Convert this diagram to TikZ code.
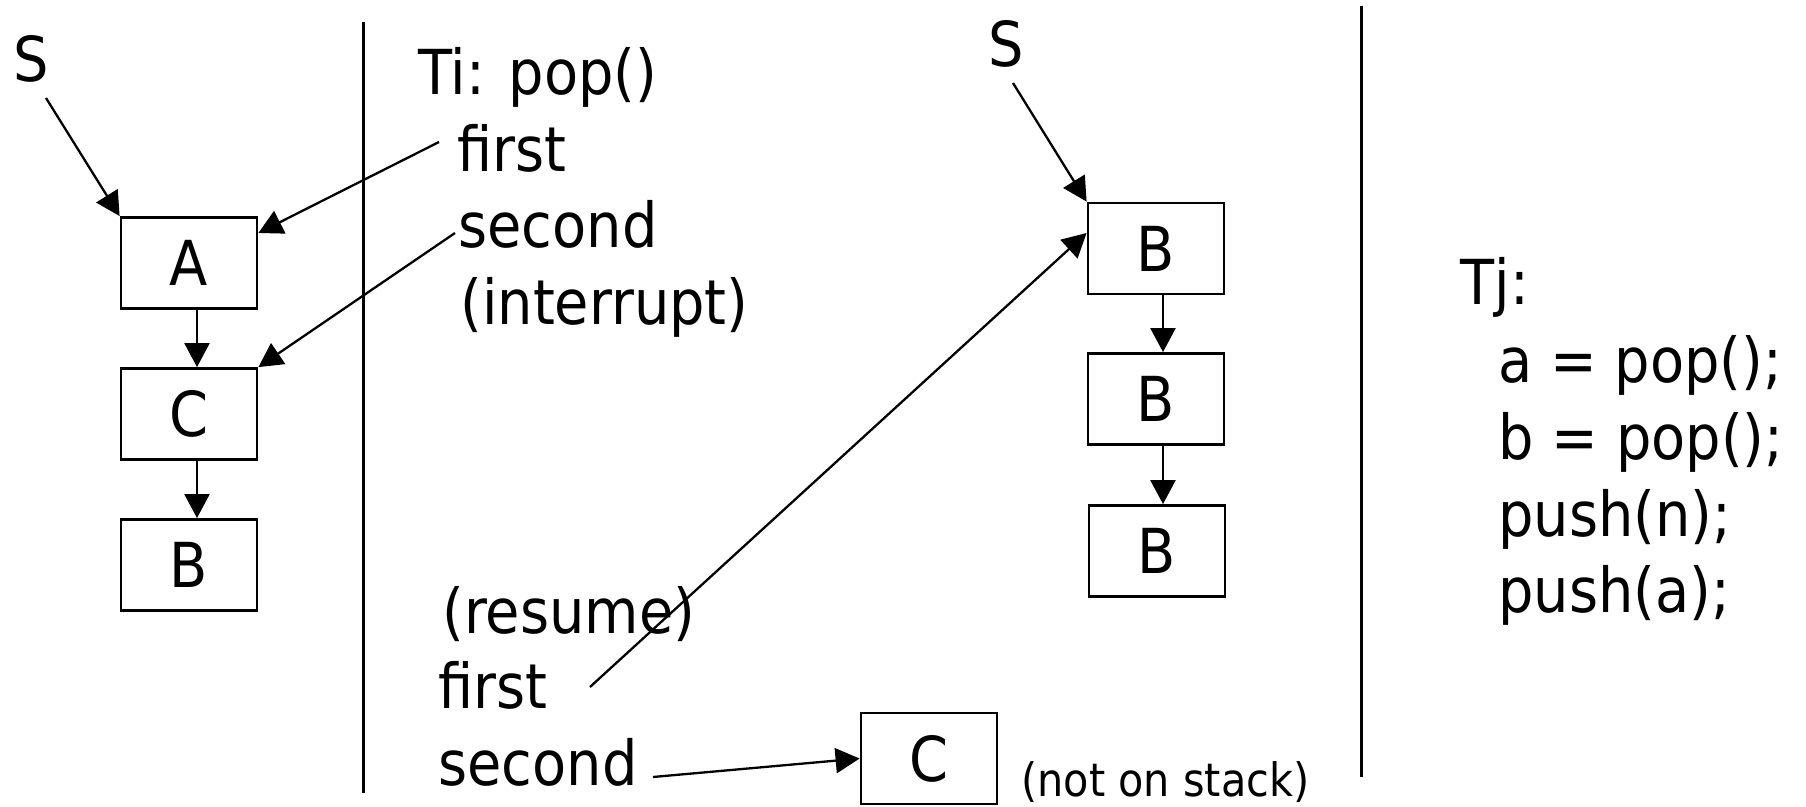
\documentclass[tikz,border=0pt]{standalone}
\usepackage{fontspec}
\setmainfont{DejaVu Sans}[FakeStretch=0.9]
\usetikzlibrary{arrows.meta}
\begin{document}
\begin{tikzpicture}[x=0.5pt,y=-0.5pt,
  lbl/.style={font=\fontsize{31}{38}\selectfont, anchor=base west, inner sep=0pt},
  smalllbl/.style={font=\fontsize{23}{28}\selectfont, anchor=base west, inner sep=0pt},
  cell/.style={draw, line width=1.4pt, minimum width=68pt, minimum height=45.5pt,
               inner sep=0pt, font=\fontsize{31}{38}\selectfont},
  link/.style={line width=1.15pt, -{Triangle[length=12pt,width=12.5pt]}},
  divider/.style={line width=1.5pt}]
\useasboundingbox (0,0) rectangle (1806,807);

% column dividers
\coordinate (d1top) at (363,22);
\coordinate (d1bot) at (363,793);
\coordinate (d2top) at (1361.5,6);
\coordinate (d2bot) at (1361.5,777);
\draw[divider] (d1top) -- (d1bot);
\draw[divider] (d2top) -- (d2bot);

% initial stack
\node[lbl] (s1) at (13,82) {S};
\node[cell] (a1) at (189,263) {A};
\node[cell] (c1) at (189,414) {C};
\node[cell] (b1) at (189,565) {B};

% thread Ti
\node[lbl] (ti) at (418,95) {Ti: pop()};
\node[lbl] (ifirst) at (457,172) {first};
\node[lbl] (isecond) at (458,248) {second};
\node[lbl] (iint) at (460,325) {(interrupt)};

\node[lbl] (resume) at (442,633) {(resume)};
\node[lbl] (rfirst) at (438,708) {first};
\node[lbl] (rsecond) at (438,785) {second};

% stack after Tj
\node[lbl] (s2) at (988,67) {S};
\node[cell] (b2a) at (1156,248.5) {B};
\node[cell] (b2b) at (1156,399) {B};
\node[cell] (b2c) at (1157,551) {B};
\node[cell] (c2) at (929,758.5) {C};
\node[smalllbl] (nos) at (1021,796) {(not on stack)};

% thread Tj
\node[lbl] (tj) at (1460,305) {Tj:};
\node[lbl] (tj1) at (1498,383) {a = pop();};
\node[lbl] (tj2) at (1498,460) {b = pop();};
\node[lbl] (tj3) at (1498,537) {push(n);};
\node[lbl] (tj4) at (1498,613) {push(a);};

% pointers, left part
\coordinate (s1tail) at (46,98);
\coordinate (ifirsttail) at (439,142);
\coordinate (isecondtail) at (455,233);
\draw[link] (s1tail) -- (a1.north west);
\draw[link] (ifirsttail) -- ([yshift=15pt]a1.east);
\draw[link] (isecondtail) -- (c1.north east);
\draw[link] ([xshift=4pt]a1.south) -- ([xshift=4pt]c1.north);
\draw[link] ([xshift=4pt]c1.south) -- ([xshift=4pt]b1.north);

% pointers, right part
\coordinate (s2tail) at (1013,83);
\coordinate (rfirsttail) at (590,687);
\coordinate (rsecondtail) at (653,777);
\draw[link] (s2tail) -- (b2a.north west);
\draw[link] (rfirsttail) -- ([yshift=7.75pt]b2a.west);
\draw[link] ([xshift=3.5pt]b2a.south) -- ([xshift=3.5pt]b2b.north);
\draw[link] ([xshift=3.5pt]b2b.south) -- ([xshift=3pt]b2c.north);
\draw[link] (rsecondtail) -- (c2.west);
\end{tikzpicture}
\end{document}
